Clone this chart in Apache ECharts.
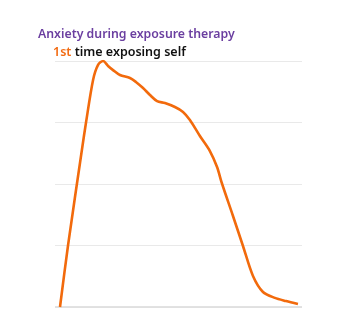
<!DOCTYPE html>
<html><head><meta charset="utf-8">
<script src="https://cdn.jsdelivr.net/npm/echarts@6/dist/echarts.min.js"></script>
<style>html,body{margin:0;padding:0;background:#fff}#c{width:357px;height:328px}</style>
</head><body><div id="c"></div>
<script>
var titleText = "Anxiety during exposure therapy";
var subtitleAccent = "1st";
var subtitleRest = " time exposing self";
var timeValues = [0, 3.4, 9.2, 10.9, 13.9, 16.0, 18.1, 20.2, 22.3, 25.2, 29.4, 31.9, 34.9, 37.8, 40.8, 44.1, 48.3, 51.7, 54.6, 58.8, 63, 66, 68, 72.7, 76.9, 81.1, 85.3, 90.3, 95, 100];
var anxietyValues = [0, 25.2, 63.8, 74.8, 92.3, 98.4, 100, 98, 96.3, 94.3, 93.1, 91.5, 89, 86.2, 83.7, 82.9, 81.3, 79.3, 76, 69.5, 63.4, 56.9, 50.4, 37, 24.8, 12.6, 6.1, 3.7, 2.4, 1.2];

var chart = echarts.init(document.getElementById('c'));
var data = timeValues.map(function(t, i){ return [t, anxietyValues[i]]; });
chart.setOption({
  animation: false,
  title: [{
    text: titleText, left: 33, top: 23,
    textStyle: {fontFamily: 'Noto Sans', fontSize: 12.3, fontWeight: 600, color: '#6b3fa0'}
  }, {
    text: '{a|' + subtitleAccent + '}{b|' + subtitleRest + '}', left: 48, top: 41,
    textStyle: {rich: {
      a: {fontFamily: 'Noto Sans', fontSize: 12.5, fontWeight: 600, color: '#f26b12'},
      b: {fontFamily: 'Noto Sans', fontSize: 12.5, fontWeight: 600, color: '#111'}
    }}
  }],
  grid: {left: 55, right: 55, top: 61, bottom: 21},
  xAxis: {type: 'value', min: -2.1, max: 101.7, show: false},
  yAxis: {type: 'value', min: 0, max: 100, interval: 25,
    axisLabel: {show: false}, axisTick: {show: false}, axisLine: {show: false},
    splitLine: {lineStyle: {color: '#e9e9e9', width: 1}}},
  series: [{
    type: 'line', data: data, smooth: 0.3, symbol: 'none',
    lineStyle: {color: '#f26a0c', width: 2.6}
  }, {
    type: 'line', data: [[-2.1, 0], [101.7, 0]], symbol: 'none', silent: true, z: 1,
    lineStyle: {color: '#d9d9d9', width: 1.5}
  }]
});
</script></body></html>
